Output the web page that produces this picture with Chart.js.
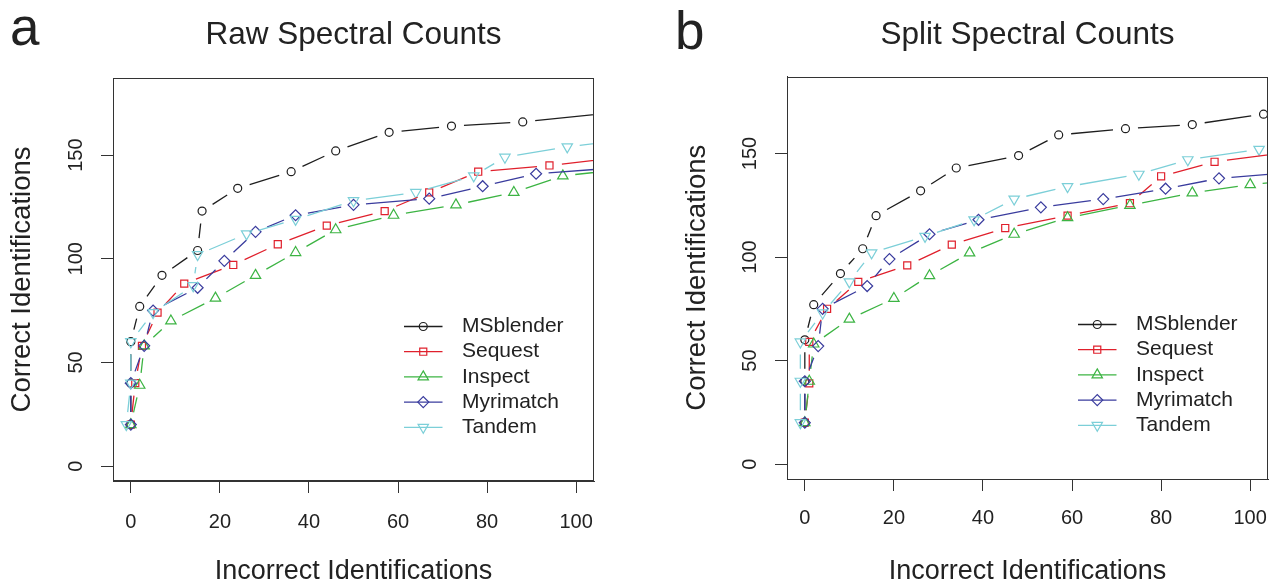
<!DOCTYPE html>
<html>
<head>
<meta charset="utf-8">
<script src="https://cdn.jsdelivr.net/npm/chart.js"></script>
<style>
body { margin: 0; background: #fff; width: 1270px; height: 586px; overflow: hidden; position: relative; font-family: "Liberation Sans", Arial, sans-serif; }
.panel { position: absolute; top: 0; height: 586px; }
.letter { position: absolute; font-size: 53px; line-height: 53px; color: #222; }
</style>
</head>
<body>
<div class="panel" style="left:0;width:635px"><canvas id="rawChart" width="635" height="586"></canvas></div>
<div class="panel" style="left:635px;width:660px"><canvas id="splitChart" width="660" height="586"></canvas></div>
<div class="letter" style="left:10px;top:0px">a</div>
<div class="letter" style="left:675px;top:4px">b</div>
<script>
// series
var seriesNames = ["MSblender", "Sequest", "Inspect", "Myrimatch", "Tandem"];
var seriesColors = ["#1e1e1e", "#e0202c", "#3cb443", "#3a3c9e", "#7ccfd8"];
var pointStyles = ["circle", "rect", "triangle", "rectRot", "triangle"];
var pointRotations = [0, 0, 0, 0, 180];
var pointRadii = [4, 5, 6, 5.5, 6];

var xTickValues = [0, 20, 40, 60, 80, 100];
var yTickValues = [0, 50, 100, 150];

// a: raw spectral counts
var rawMSblenderX = [0, 0, 0, 2, 7, 15, 16, 24, 36, 46, 58, 72, 88, 115];
var rawMSblenderY = [20, 40, 60, 77, 92, 104, 123, 134, 142, 152, 161, 164, 166, 172];
var rawSequestX = [0, 1, 2.5, 6, 12, 23, 33, 44, 57, 67, 78, 94, 110];
var rawSequestY = [20, 40, 58, 74, 88, 97, 107, 116, 123, 132, 142, 145, 149];
var rawInspectX = [0, 2, 3, 9, 19, 28, 37, 46, 59, 73, 86, 97, 110];
var rawInspectY = [20, 39, 58, 70, 81, 92, 103, 114, 121, 126, 132, 140, 143];
var rawMyrimatchX = [0, 0, 3, 5, 15, 21, 28, 37, 50, 67, 79, 91, 110];
var rawMyrimatchY = [20, 40, 58, 75, 86, 99, 113, 121, 126, 129, 135, 141, 144];
var rawTandemX = [-1, 0, 0, 5, 14, 15, 26, 37, 50, 64, 77, 84, 98, 110];
var rawTandemY = [20, 40, 60, 74, 87, 102, 112, 119, 128, 132, 140, 149, 154, 157];

// b: split spectral counts
var splitMSblenderX = [0, 0, 0, 2, 8, 13, 16, 26, 34, 48, 57, 72, 87, 103];
var splitMSblenderY = [20, 40, 60, 77, 92, 104, 120, 132, 143, 149, 159, 162, 164, 169];
var splitSequestX = [0, 1, 1, 5, 12, 23, 33, 45, 59, 73, 80, 92, 110];
var splitSequestY = [20, 39, 59, 75, 88, 96, 106, 114, 120, 126, 139, 146, 151];
var splitInspectX = [0, 1, 2, 10, 20, 28, 37, 47, 59, 73, 87, 100, 110];
var splitInspectY = [20, 40, 58, 70, 80, 91, 102, 111, 119, 125, 131, 135, 137];
var splitMyrimatchX = [0, 0, 3, 4, 14, 19, 28, 39, 53, 67, 81, 93, 110];
var splitMyrimatchY = [20, 40, 57, 75, 86, 99, 111, 118, 124, 128, 133, 138, 141];
var splitTandemX = [-1, -1, -1, 4, 10, 15, 27, 38, 47, 59, 75, 86, 102, 110];
var splitTandemY = [20, 40, 59, 73, 88, 102, 110, 118, 128, 134, 140, 147, 152, 153];

var fontFamily = '"Liberation Sans", Arial, sans-serif';
var lineWidth = 1.3;
var pointGap = 12.5; // R type="b": lines stop short of each point

function buildDatasets(xsList, ysList) {
  return seriesNames.map(function (name, i) {
    return {
      label: name,
      data: xsList[i].map(function (x, j) { return { x: x, y: ysList[i][j] }; }),
      showLine: false,
      borderColor: seriesColors[i],
      pointStyle: pointStyles[i],
      pointRotation: pointRotations[i],
      pointRadius: pointRadii[i],
      pointBorderColor: seriesColors[i],
      pointBackgroundColor: "rgba(255,255,255,0)",
      pointBorderWidth: 1.2,
      order: seriesNames.length - i
    };
  });
}

// joins the points the chart placed, leaving R-style gaps round each one
var gappedLines = {
  id: "gappedLines",
  afterDatasetsDraw: function (chart) {
    var ctx = chart.ctx, a = chart.chartArea;
    var metas = chart.getSortedVisibleDatasetMetas();
    ctx.save();
    ctx.beginPath();
    ctx.rect(a.left, a.top, a.right - a.left, a.bottom - a.top);
    ctx.clip();
    ctx.lineWidth = lineWidth;
    for (var m = metas.length - 1; m >= 0; m--) {
      var pts = metas[m].data;
      ctx.strokeStyle = chart.data.datasets[metas[m].index].borderColor;
      ctx.beginPath();
      for (var k = 1; k < pts.length; k++) {
        var p0 = pts[k - 1], p1 = pts[k];
        var dx = p1.x - p0.x, dy = p1.y - p0.y;
        var L = Math.sqrt(dx * dx + dy * dy);
        if (L <= 2 * pointGap) continue;
        var ux = dx / L, uy = dy / L;
        ctx.moveTo(p0.x + ux * pointGap, p0.y + uy * pointGap);
        ctx.lineTo(p1.x - ux * pointGap, p1.y - uy * pointGap);
      }
      ctx.stroke();
    }
    ctx.restore();
  }
};

// box round the plot and the legend inside it
var boxLegend = {
  id: "boxLegend",
  afterDraw: function (chart) {
    var ctx = chart.ctx, a = chart.chartArea;
    ctx.save();
    ctx.strokeStyle = "#333";
    ctx.lineWidth = 1;
    ctx.strokeRect(Math.round(a.left) + 0.5, Math.round(a.top) + 0.5,
      Math.round(a.right - a.left) - 1, Math.round(a.bottom - a.top) - 1);

    var x0 = a.right - 190, y0 = a.bottom - 154.5;
    ctx.font = "21px " + fontFamily;
    ctx.textBaseline = "middle";
    chart.data.datasets.forEach(function (ds, i) {
      var y = y0 + i * 25.2;
      ctx.strokeStyle = ds.borderColor;
      ctx.lineWidth = lineWidth;
      ctx.beginPath();
      ctx.moveTo(x0, y);
      ctx.lineTo(x0 + 38.5, y);
      ctx.stroke();
      ctx.fillStyle = "rgba(255,255,255,0)";
      ctx.lineWidth = 1.2;
      Chart.helpers.drawPoint(ctx, {
        pointStyle: ds.pointStyle, rotation: ds.pointRotation,
        radius: ds.pointRadius, borderWidth: 1.2
      }, x0 + 19.25, y);
      ctx.fillStyle = "#222";
      ctx.fillText(ds.label, x0 + 58, y);
    });
    ctx.restore();
  }
};

function makePanel(id, titleText, datasets, p) {
  return new Chart(document.getElementById(id), {
    type: "line",
    data: { datasets: datasets },
    plugins: [gappedLines, boxLegend],
    options: {
      responsive: false,
      animation: false,
      events: [],
      layout: { padding: { left: 0, right: p.padRight, top: 0, bottom: 0 } },
      plugins: {
        legend: { display: false },
        tooltip: { enabled: false },
        title: {
          display: true,
          text: titleText,
          fullSize: false,
          color: "#222",
          font: { family: fontFamily, size: 31.5, weight: "normal", lineHeight: 1 },
          padding: { top: 19.5, bottom: p.titleBottom }
        }
      },
      scales: {
        x: {
          type: "linear",
          min: -4, max: 104,
          afterBuildTicks: function (s) { s.ticks = xTickValues.map(function (v) { return { value: v }; }); },
          afterFit: function (s) { s.height = p.xHeight; },
          grid: { drawOnChartArea: false, tickLength: 12, color: "#333", lineWidth: 1 },
          border: { display: true, color: "#333", width: 1 },
          ticks: { font: { family: fontFamily, size: 20 }, color: "#222", padding: p.xTickPad, maxRotation: 0 },
          title: {
            display: true, text: "Incorrect Identifications", color: "#222",
            font: { family: fontFamily, size: 27, lineHeight: 1 },
            padding: { top: 0, bottom: 1 }
          }
        },
        y: {
          type: "linear",
          min: -7.2, max: 187.2,
          afterBuildTicks: function (s) { s.ticks = yTickValues.map(function (v) { return { value: v }; }); },
          afterFit: function (s) { s.width = p.yWidth; },
          grid: { drawOnChartArea: false, tickLength: 12, color: "#333", lineWidth: 1 },
          border: { display: true, color: "#333", width: 1 },
          ticks: { font: { family: fontFamily, size: 20 }, color: "#222", padding: 8,
                   minRotation: 90, maxRotation: 90, crossAlign: "center" },
          title: {
            display: true, text: "Correct Identifications", color: "#222",
            font: { family: fontFamily, size: 27.5, lineHeight: 1 },
            padding: { top: p.yTitlePad, bottom: 0 }
          }
        }
      }
    }
  });
}

makePanel("rawChart", "Raw Spectral Counts",
  buildDatasets([rawMSblenderX, rawSequestX, rawInspectX, rawMyrimatchX, rawTandemX],
                [rawMSblenderY, rawSequestY, rawInspectY, rawMyrimatchY, rawTandemY]),
  { padRight: 41, titleBottom: 27, xHeight: 105, xTickPad: 17, yWidth: 113, yTitlePad: 9 });

makePanel("splitChart", "Split Spectral Counts",
  buildDatasets([splitMSblenderX, splitSequestX, splitInspectX, splitMyrimatchX, splitTandemX],
                [splitMSblenderY, splitSequestY, splitInspectY, splitMyrimatchY, splitTandemY]),
  { padRight: 27, titleBottom: 25.5, xHeight: 107, xTickPad: 15, yWidth: 152, yTitlePad: 48.3 });
</script>
</body>
</html>
